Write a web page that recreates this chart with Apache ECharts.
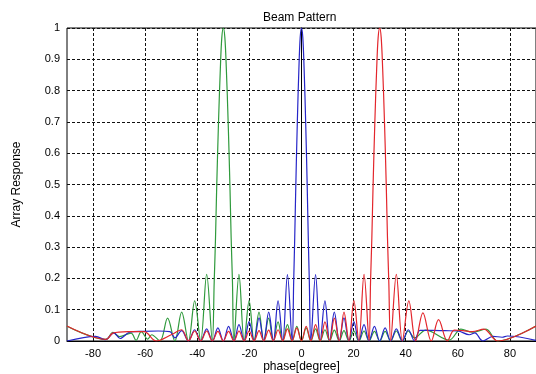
<!DOCTYPE html>
<html>
<head>
<meta charset="utf-8">
<script src="https://cdn.jsdelivr.net/npm/echarts@6/dist/echarts.min.js"></script>
<style>
  html, body { margin: 0; padding: 0; background: #fff; }
  #main { width: 536px; height: 374px; }
</style>
</head>
<body>
<div id="main"></div>
<script>
// tick labels
var xTicks = [-80, -60, -40, -20, 0, 20, 40, 60, 80];

// beam steered to -30 deg
var greenData = [
  [-90, 0.047], [-75, 0.005], [-72.4, 0.028], [-69.9, 0.014], [-65.4, 0.025], [-63.5, 0.002],
  [-61.5, 0.03], [-59, 0.006], [-57.5, 0.02], [-54.34, 0], [-51.4, 0.073], [-48.6, 0],
  [-46, 0.092], [-43.4, 0], [-41, 0.128], [-38.7, 0], [-36.4, 0.213], [-34.23, 0],
  [-33.5, 0.19], [-33.0, 0.33], [-32.55, 0.49], [-31.85, 0.7], [-31.15, 0.87], [-30.58, 0.97],
  [-30, 1], [-29.42, 0.97], [-28.85, 0.87], [-28.15, 0.7], [-27.45, 0.49], [-27.0, 0.33],
  [-26.5, 0.19], [-25.94, 0], [-24, 0.213], [-22, 0], [-20.1, 0.129], [-18.2, 0],
  [-16.3, 0.092], [-14.5, 0], [-12.6, 0.073], [-10.8, 0], [-9, 0.061], [-7.2, 0],
  [-5.4, 0.052], [-3.6, 0], [-1.8, 0.047], [0, 0], [1.8, 0.042], [3.6, 0],
  [5.4, 0.039], [7.2, 0], [9, 0.036], [10.8, 0], [12.6, 0.035], [14.5, 0],
  [16.3, 0.033], [18.2, 0], [20.1, 0.032], [22, 0], [24, 0.032], [25.9, 0],
  [28, 0.031], [30, 0], [32.1, 0.031], [34.2, 0], [36.4, 0.032], [38.7, 0],
  [41, 0.032], [43.4, 0.01], [47.7, 0.035], [56.7, 0.003], [61.2, 0.038], [65.6, 0.028],
  [70.8, 0.038], [75.3, 0], [90, 0.048]
];

// beam steered to 0 deg
var blueData = [
  [-90, 0], [-79, 0.015], [-75.3, 0.004], [-72, 0.026], [-69.6, 0.008], [-66, 0.028],
  [-61, 0.031], [-55, 0.032], [-50.5, 0.03], [-48.6, 0.01], [-46, 0.033], [-43.4, 0],
  [-41, 0.036], [-38.7, 0], [-36.4, 0.039], [-34.2, 0], [-32.1, 0.042], [-30, 0],
  [-28, 0.047], [-25.9, 0], [-24, 0.052], [-22, 0], [-20.1, 0.062], [-18.2, 0],
  [-16.3, 0.074], [-14.5, 0], [-12.6, 0.092], [-10.8, 0], [-9, 0.128], [-7.2, 0],
  [-5.4, 0.212], [-3.58, 0], [-3.0, 0.19], [-2.6, 0.33], [-2.2, 0.49], [-1.6, 0.7],
  [-1.0, 0.87], [-0.5, 0.97], [0, 1], [0.5, 0.97], [1.0, 0.87], [1.6, 0.7],
  [2.2, 0.49], [2.6, 0.33], [3.0, 0.19], [3.58, 0], [5.4, 0.212], [7.2, 0],
  [9, 0.128], [10.8, 0], [12.6, 0.092], [14.5, 0], [16.3, 0.074], [18.2, 0],
  [20.1, 0.062], [22, 0], [24, 0.052], [25.9, 0], [28, 0.047], [30, 0],
  [32.1, 0.042], [34.2, 0], [36.4, 0.039], [38.7, 0], [41, 0.036], [43.4, 0],
  [45.5, 0.034], [50, 0.034], [55, 0.033], [60, 0.032], [64.4, 0.02], [66.5, 0.026],
  [69.6, 0], [73.5, 0.015], [77, 0.012], [79, 0.016], [90, 0.002]
];

// beam steered to +30 deg
var redData = [
  [-90, 0.048], [-75, 0.005], [-72.4, 0.025], [-66.7, 0.03], [-60.4, 0.03], [-55.8, 0],
  [-50, 0.02], [-46, 0.036], [-43.4, 0], [-41, 0.032], [-38.7, 0], [-36.4, 0.032],
  [-34.2, 0], [-32.1, 0.031], [-30, 0], [-28, 0.031], [-25.9, 0], [-24, 0.032],
  [-22, 0], [-20.1, 0.032], [-18.2, 0], [-16.3, 0.033], [-14.5, 0], [-12.6, 0.035],
  [-10.8, 0], [-9, 0.036], [-7.2, 0], [-5.4, 0.039], [-3.6, 0], [-1.8, 0.042],
  [0, 0], [1.8, 0.047], [3.6, 0], [5.4, 0.052], [7.2, 0], [9, 0.061],
  [10.8, 0], [12.6, 0.073], [14.5, 0], [16.3, 0.092], [18.2, 0], [20.1, 0.129],
  [22, 0], [24, 0.213], [25.94, 0], [26.5, 0.19], [27.0, 0.33], [27.45, 0.49],
  [28.15, 0.7], [28.85, 0.87], [29.42, 0.97], [30, 1], [30.58, 0.97], [31.15, 0.87],
  [31.85, 0.7], [32.55, 0.49], [33.0, 0.33], [33.5, 0.19], [34.23, 0], [36.4, 0.213],
  [38.7, 0], [41.2, 0.128], [43.8, 0], [46.6, 0.09], [49.8, 0], [52.6, 0.068],
  [56, 0], [58.6, 0.035], [62, 0.033], [65.6, 0.03], [70, 0.038], [75.3, 0],
  [90, 0.048]
];

var chart = echarts.init(document.getElementById('main'));
var font = 'Liberation Sans, Arial, sans-serif';
var dash = { color: '#111', type: [3, 2], width: 1 };

function beam(name, data, color) {
  return {
    name: name,
    type: 'line',
    data: data,
    showSymbol: false,
    smooth: 0.35,
    lineStyle: { color: color, width: 1.2 },
    itemStyle: { color: color },
    animation: false
  };
}

chart.setOption({
  animation: false,
  title: {
    text: 'Beam Pattern',
    left: 258,
    top: 7,
    textStyle: { fontFamily: font, fontSize: 12, fontWeight: 'normal', color: '#000' }
  },
  grid: {
    left: 67, right: 0, top: 28, bottom: 33,
    outerBoundsMode: 'none',
    containLabel: false,
    show: true, borderColor: '#000', borderWidth: 1, backgroundColor: '#fff'
  },
  xAxis: {
    type: 'value',
    min: -90,
    max: 90,
    name: 'phase[degree]',
    nameLocation: 'middle',
    nameGap: 20,
    nameMoveOverlap: false,
    nameTextStyle: { fontFamily: font, fontSize: 12, color: '#000', verticalAlign: 'top' },
    axisLine: { show: true, onZero: false, lineStyle: { color: '#000', width: 1 } },
    axisTick: { show: false, customValues: xTicks },
    axisLabel: { customValues: xTicks, margin: 7, fontFamily: font, fontSize: 11, color: '#000' },
    splitLine: { show: true, lineStyle: dash }
  },
  yAxis: {
    type: 'value',
    min: 0,
    max: 1,
    interval: 0.1,
    name: 'Array Response',
    nameLocation: 'middle',
    nameGap: 44,
    nameMoveOverlap: false,
    nameTextStyle: { fontFamily: font, fontSize: 12, color: '#000' },
    axisLine: { show: true, lineStyle: { color: '#000', width: 1 } },
    axisTick: { show: false },
    axisLabel: { margin: 7, fontFamily: font, fontSize: 11, color: '#000' },
    splitLine: { show: true, lineStyle: dash }
  },
  series: [
    beam('-30', greenData, '#2f9a3c'),
    beam('0', blueData, '#2626c8'),
    beam('30', redData, '#e3262c')
  ]
});
</script>
</body>
</html>
